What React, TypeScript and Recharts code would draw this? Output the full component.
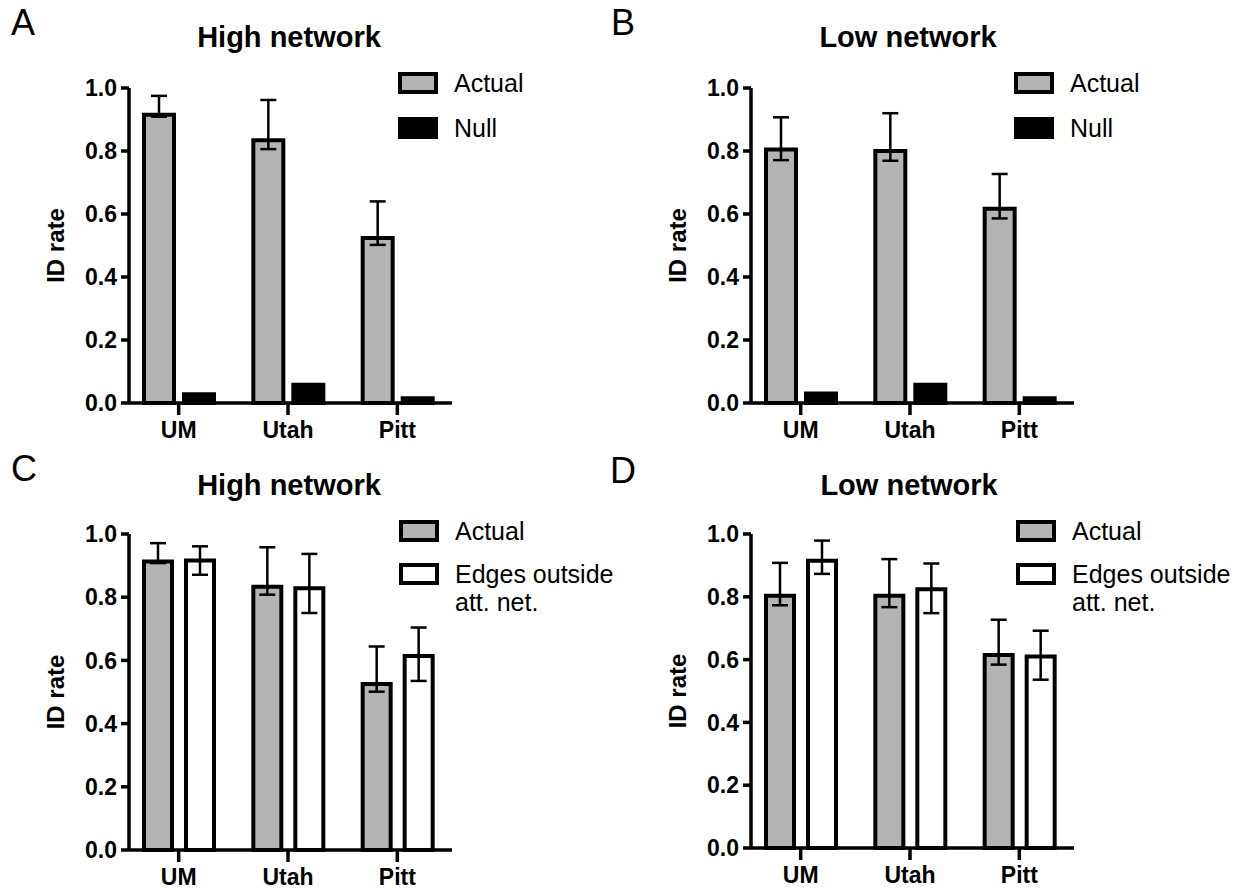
import React from 'react'
import { BarChart, Bar, XAxis, YAxis, ErrorBar, Legend, Label } from 'recharts'

const sites = ['UM', 'Utah', 'Pitt']
const yTicks = [0, 0.2, 0.4, 0.6, 0.8, 1.0]

// A - high network, actual vs null
const highActualA = [0.915, 0.834, 0.524]
const highActualALow = [0.909, 0.806, 0.502]
const highActualAHigh = [0.975, 0.962, 0.64]
const highNull = [0.028, 0.058, 0.015]

// B - low network, actual vs null
const lowActualB = [0.805, 0.8, 0.617]
const lowActualBLow = [0.771, 0.769, 0.586]
const lowActualBHigh = [0.907, 0.92, 0.727]
const lowNull = [0.03, 0.058, 0.015]

// C - high network, actual vs edges outside att. net.
const highActualC = [0.913, 0.833, 0.525]
const highActualCLow = [0.908, 0.808, 0.501]
const highActualCHigh = [0.971, 0.958, 0.644]
const highEdges = [0.916, 0.828, 0.614]
const highEdgesLow = [0.871, 0.75, 0.535]
const highEdgesHigh = [0.961, 0.937, 0.704]

// D - low network, actual vs edges outside att. net.
const lowActualD = [0.803, 0.803, 0.615]
const lowActualDLow = [0.773, 0.767, 0.584]
const lowActualDHigh = [0.908, 0.92, 0.727]
const lowEdges = [0.915, 0.824, 0.61]
const lowEdgesLow = [0.873, 0.748, 0.536]
const lowEdgesHigh = [0.979, 0.906, 0.692]

const FONT = '"Liberation Sans", Arial, Helvetica, sans-serif'
const GRAY = '#b4b4b4'

const err = (v: number[], lo?: number[], hi?: number[]) =>
  v.map((x, i) => (lo && hi ? [x - lo[i], hi[i] - x] : null))

function buildRows(a: number[], aLo: number[], aHi: number[], b: number[], bLo?: number[], bHi?: number[]) {
  const ae = err(a, aLo, aHi)
  const be = err(b, bLo, bHi)
  return sites.map((site, i) => ({ site, a: a[i], aErr: ae[i], b: b[i], bErr: be[i] }))
}

const dataA = buildRows(highActualA, highActualALow, highActualAHigh, highNull)
const dataB = buildRows(lowActualB, lowActualBLow, lowActualBHigh, lowNull)
const dataC = buildRows(highActualC, highActualCLow, highActualCHigh, highEdges, highEdgesLow, highEdgesHigh)
const dataD = buildRows(lowActualD, lowActualDLow, lowActualDHigh, lowEdges, lowEdgesLow, lowEdgesHigh)

const YLabel = (props: any) => {
  const vb = props.viewBox || { x: 0, y: 0, width: 0, height: 0 }
  const cx = vb.x + 55
  const cy = vb.y + vb.height / 2
  return (
    <text
      x={cx}
      y={cy}
      transform={`rotate(-90 ${cx} ${cy})`}
      textAnchor="middle"
      dominantBaseline="central"
      fontFamily={FONT}
      fontWeight="bold"
      fontSize={24}
      fill="#000"
    >
      ID rate
    </text>
  )
}

function makeLegend(rowGap: number) {
  return (props: any) => {
    const payload = props.payload || []
    return (
      <div style={{ position: 'relative', width: 230, height: 120, fontFamily: FONT }}>
        {payload.map((entry: any, i: number) => (
          <div key={i} style={{ position: 'absolute', left: 0, top: i * rowGap }}>
            <div
              style={{
                position: 'absolute',
                left: 0,
                top: 0,
                width: 40,
                height: 22,
                boxSizing: 'border-box',
                border: '4px solid #000',
                background: entry.color,
              }}
            />
            <div
              style={{
                position: 'absolute',
                left: 56,
                top: -3,
                width: 180,
                fontSize: 25,
                lineHeight: '28px',
                color: '#000',
                whiteSpace: 'pre-line',
              }}
            >
              {entry.value}
            </div>
          </div>
        ))}
      </div>
    )
  }
}

type PanelProps = {
  left: number
  top: number
  data: any[]
  secondName: string
  secondFill: string
  plotTop: number
  xHeight: number
  barSize: number
  barGap: number
  legendLeft: number
  legendTop: number
  rowGap: number
}

function Panel(p: PanelProps) {
  const tickStyle = { fill: '#000', fontSize: 23, fontWeight: 'bold' as const, fontFamily: FONT }
  return (
    <div style={{ position: 'absolute', left: p.left, top: p.top, width: 620, height: 445 }}>
      <BarChart
        width={620}
        height={445}
        data={p.data}
        margin={{ top: p.plotTop, right: 168, left: 0, bottom: 0 }}
        barGap={p.barGap}
      >
        <XAxis
          dataKey="site"
          height={p.xHeight}
          padding={{ left: -5, right: 0 }}
          axisLine={{ stroke: '#000', strokeWidth: 3.5 }}
          tickLine={{ stroke: '#000', strokeWidth: 3.5 }}
          tickSize={12}
          tickMargin={7}
          tick={tickStyle}
          interval={0}
        />
        <YAxis
          width={129}
          domain={[0, 1]}
          ticks={yTicks}
          tickFormatter={(v: number) => v.toFixed(1)}
          axisLine={{ stroke: '#000', strokeWidth: 3.5 }}
          tickLine={{ stroke: '#000', strokeWidth: 3.5 }}
          tickSize={8}
          tickMargin={4}
          tick={tickStyle}
          interval={0}
        >
          <Label content={YLabel} />
        </YAxis>
        <Legend
          layout="vertical"
          align="center"
          verticalAlign="middle"
          wrapperStyle={{ left: p.legendLeft, top: p.legendTop, width: 230 }}
          content={makeLegend(p.rowGap)}
        />
        <Bar
          dataKey="a"
          name="Actual"
          fill={GRAY}
          stroke="#000"
          strokeWidth={4}
          barSize={p.barSize}
          isAnimationActive={false}
        >
          <ErrorBar dataKey="aErr" direction="y" width={8} strokeWidth={2.5} stroke="#000" />
        </Bar>
        <Bar
          dataKey="b"
          name={p.secondName}
          fill={p.secondFill}
          stroke="#000"
          strokeWidth={4}
          barSize={p.barSize}
          isAnimationActive={false}
        >
          {p.secondFill !== '#000' && (
            <ErrorBar dataKey="bErr" direction="y" width={8} strokeWidth={2.5} stroke="#000" />
          )}
        </Bar>
      </BarChart>
    </div>
  )
}

const titles = [
  { text: 'High network', x: 289, y: 47 },
  { text: 'Low network', x: 908, y: 47 },
  { text: 'High network', x: 289, y: 495 },
  { text: 'Low network', x: 909, y: 495 },
]
const letters = [
  { text: 'A', x: 11, y: 35 },
  { text: 'B', x: 611, y: 35 },
  { text: 'C', x: 11, y: 481 },
  { text: 'D', x: 610, y: 483 },
]

export default function App() {
  return (
    <div style={{ position: 'absolute', left: 0, top: 0, width: 1241, height: 890, background: '#fff', overflow: 'hidden' }}>
      <Panel left={0} top={0} data={dataA} secondName="Null" secondFill="#000"
        plotTop={88} xHeight={42} barSize={30} barGap={10} legendLeft={398} legendTop={72} rowGap={45} />
      <Panel left={622} top={0} data={dataB} secondName="Null" secondFill="#000"
        plotTop={88} xHeight={42} barSize={30} barGap={10} legendLeft={392} legendTop={72} rowGap={45} />
      <Panel left={0} top={445} data={dataC} secondName={'Edges outside\natt. net.'} secondFill="#fff"
        plotTop={89} xHeight={40} barSize={28} barGap={14} legendLeft={399} legendTop={75} rowGap={43} />
      <Panel left={622} top={445} data={dataD} secondName={'Edges outside\natt. net.'} secondFill="#fff"
        plotTop={89} xHeight={42} barSize={28} barGap={14} legendLeft={394} legendTop={75} rowGap={43} />
      <svg width={1241} height={890} style={{ position: 'absolute', left: 0, top: 0, pointerEvents: 'none' }}>
        {titles.map((t, i) => (
          <text key={'t' + i} x={t.x} y={t.y} textAnchor="middle" fontFamily={FONT} fontWeight="bold" fontSize={29} fill="#000">
            {t.text}
          </text>
        ))}
        {letters.map((l, i) => (
          <text key={'l' + i} x={l.x} y={l.y} fontFamily={FONT} fontSize={36} fill="#000">
            {l.text}
          </text>
        ))}
      </svg>
    </div>
  )
}
